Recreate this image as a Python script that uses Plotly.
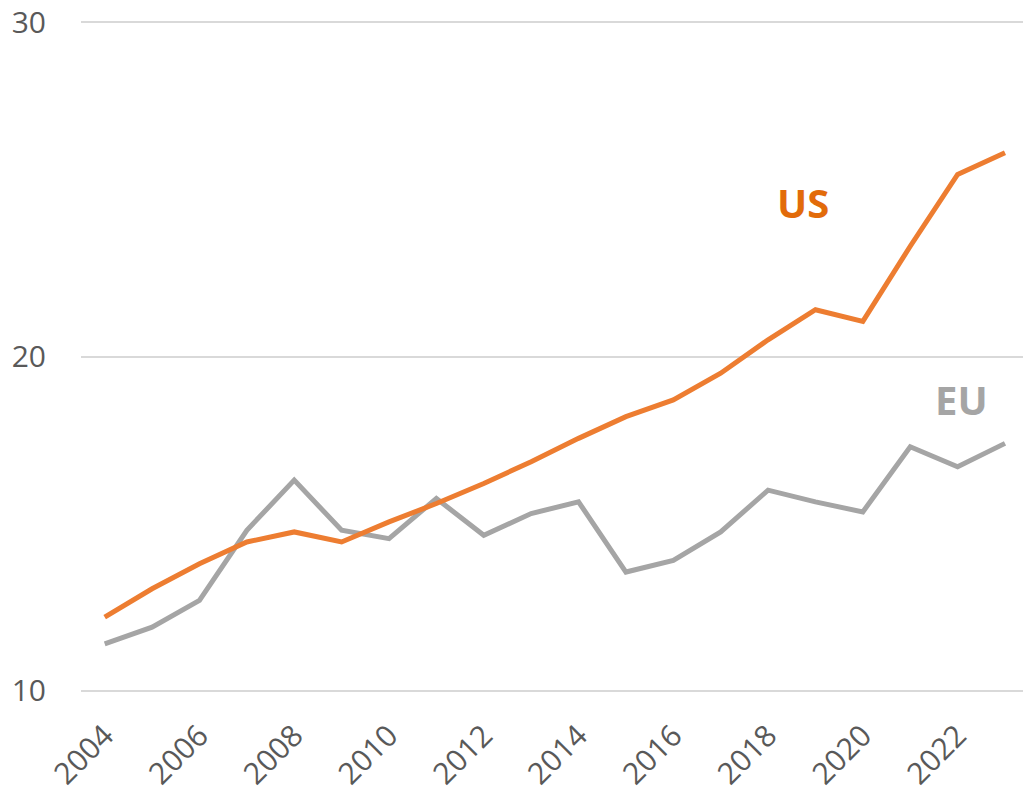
import plotly.graph_objects as go

years = list(range(2004, 2024))
us = [12.2, 13.05, 13.8, 14.45, 14.75, 14.45, 15.05, 15.6, 16.2, 16.85,
      17.55, 18.2, 18.7, 19.5, 20.5, 21.4, 21.05, 23.3, 25.45, 26.1]
eu = [11.4, 11.9, 12.7, 14.8, 16.3, 14.8, 14.55, 15.75, 14.65, 15.3,
      15.65, 13.55, 13.9, 14.75, 16.0, 15.65, 15.35, 17.3, 16.7, 17.4]
x_ticks = list(range(2004, 2023, 2))
y_ticks = [10, 20, 30]

fig = go.Figure()
fig.add_trace(go.Scatter(x=years, y=eu, mode="lines", name="EU",
                         line=dict(color="#A5A5A5", width=5)))
fig.add_trace(go.Scatter(x=years, y=us, mode="lines", name="US",
                         line=dict(color="#ED7D31", width=5)))

fig.add_annotation(x=2018.73, y=24.6, text="<b>US</b>", showarrow=False,
                   font=dict(family="Open Sans", size=40, color="#E26B0A"))
fig.add_annotation(x=2022.09, y=18.7, text="<b>EU</b>", showarrow=False,
                   font=dict(family="Open Sans", size=40, color="#A5A5A5"))

fig.update_layout(
    width=1023, height=791,
    margin=dict(l=81, r=0, t=19, b=97, autoexpand=False),
    paper_bgcolor="white", plot_bgcolor="white",
    showlegend=False,
    font=dict(family="Open Sans", color="#595959", size=28),
)
fig.update_xaxes(range=[2003.5, 2023.38], tickvals=x_ticks, tickangle=-45,
                 showgrid=False, zeroline=False, showline=False, ticks="",
                 automargin=False, ticklabelstandoff=17,
                 ticklabeloverflow="allow",
                 tickfont=dict(size=30, color="#595959"))
fig.update_yaxes(range=[9.9, 30.1], tickvals=y_ticks, showgrid=True,
                 gridcolor="#D9D9D9", gridwidth=1.5, zeroline=False,
                 showline=False, ticks="", ticklabelstandoff=34,
                 automargin=False, ticklabeloverflow="allow",
                 tickfont=dict(size=30, color="#595959"))

fig.write_html("out.html",
               config={"displayModeBar": False},
               post_script="document.body.style.margin='0';document.body.style.overflow='hidden';")
